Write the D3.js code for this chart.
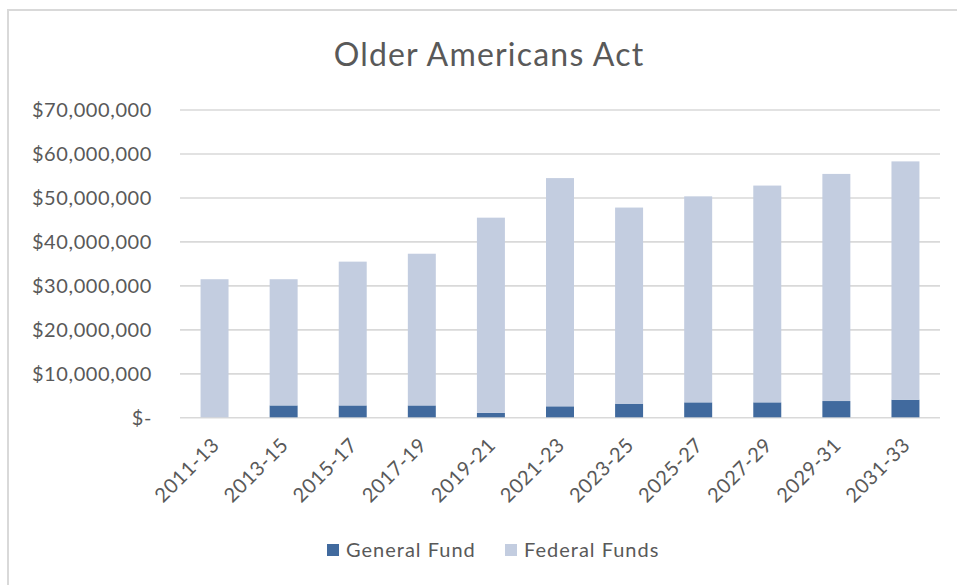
<!DOCTYPE html>
<html>
<head>
<meta charset="utf-8">
<script src="https://cdn.jsdelivr.net/npm/d3@7"></script>
<style>
  html, body { margin: 0; padding: 0; background: #ffffff; }
  svg { display: block; }
  text { font-family: Lato, "Open Sans", sans-serif; fill: #595959; }
</style>
</head>
<body>
<svg id="chart" width="957" height="585"></svg>
<script>
// Biennium labels
const biennia = ["2011-13", "2013-15", "2015-17", "2017-19", "2019-21", "2021-23",
                 "2023-25", "2025-27", "2027-29", "2029-31", "2031-33"];
// State General Fund dollars per biennium
const generalFund = [0, 2700000, 2700000, 2700000, 1000000, 2500000,
                     3100000, 3400000, 3400000, 3700000, 4000000];
// Federal Funds dollars per biennium
const federalFunds = [31400000, 28700000, 32700000, 34500000, 44400000, 51900000,
                      44600000, 46850000, 49300000, 51650000, 54200000];
// Value axis ticks
const yTicks = [0, 10000000, 20000000, 30000000, 40000000, 50000000, 60000000, 70000000];

const seriesNames = ["General Fund", "Federal Funds"];
const seriesColors = ["#416a9e", "#c3cde0"];

const svg = d3.select("#chart");

// Chart frame
svg.append("rect")
  .attr("x", 8).attr("y", 10)
  .attr("width", 980).attr("height", 600)
  .attr("fill", "#ffffff")
  .attr("stroke", "#d9d9d9").attr("stroke-width", 2);

const plot = { left: 180, right: 940, top: 109.5, bottom: 417.3 };

const x = d3.scaleBand()
  .domain(biennia)
  .range([plot.left, plot.right])
  .paddingInner(0.595)
  .paddingOuter(0.2975);

const y = d3.scaleLinear()
  .domain([0, 70000000])
  .range([plot.bottom, plot.top]);

// Title
svg.append("text")
  .attr("x", 489).attr("y", 66)
  .attr("text-anchor", "middle")
  .style("font-size", "32px")
  .style("font-weight", 400)
  .style("letter-spacing", "1.2px")
  .text("Older Americans Act");

// Value axis with gridlines
const yAxis = d3.axisLeft(y)
  .tickValues(yTicks)
  .tickSize(-(plot.right - plot.left))
  .tickPadding(28)
  .tickFormat(d => d === 0 ? "$-" : d3.format("$,")(d));

const gy = svg.append("g")
  .attr("transform", `translate(${plot.left},0)`)
  .call(yAxis);
gy.select(".domain").remove();
gy.selectAll(".tick line").attr("stroke", "#d9d9d9").attr("stroke-width", 1.6);
gy.selectAll(".tick text")
  .attr("dy", "0.34em")
  .style("font-size", "20px")
  .style("letter-spacing", "0.6px")
  .style("fill", "#595959");

// Stacked bars
const rows = biennia.map((b, i) => ({ biennium: b, general: generalFund[i], federal: federalFunds[i] }));
const stack = d3.stack().keys(["general", "federal"]);
const layers = stack(rows);

svg.append("g").selectAll("g")
  .data(layers)
  .join("g")
  .attr("fill", (d, i) => seriesColors[i])
  .selectAll("rect")
  .data(d => d)
  .join("rect")
  .attr("x", d => x(d.data.biennium))
  .attr("width", x.bandwidth())
  .attr("y", d => y(d[1]))
  .attr("height", d => y(d[0]) - y(d[1]));

// Category axis with rotated labels
const xAxis = d3.axisBottom(x).tickSize(0);
const gx = svg.append("g")
  .attr("transform", `translate(0,${plot.bottom})`)
  .call(xAxis);
gx.select(".domain").remove();
gx.selectAll(".tick text")
  .attr("x", 0).attr("y", 0).attr("dy", 0)
  .attr("text-anchor", "end")
  .attr("transform", "translate(6,29) rotate(-45)")
  .style("font-size", "20px")
  .style("letter-spacing", "0.6px")
  .style("fill", "#595959");

// Legend
const legendX = [327, 505];
const legend = svg.append("g");
seriesNames.forEach((name, i) => {
  legend.append("rect")
    .attr("x", legendX[i]).attr("y", 544)
    .attr("width", 12).attr("height", 12)
    .attr("fill", seriesColors[i]);
  legend.append("text")
    .attr("x", legendX[i] + 19).attr("y", 557)
    .style("font-size", "20px")
    .style("letter-spacing", "1px")
    .text(name);
});
</script>
</body>
</html>
